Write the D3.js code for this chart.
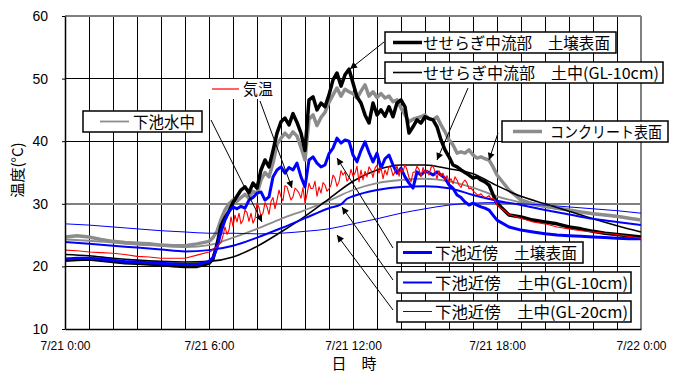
<!DOCTYPE html>
<html><head><meta charset="utf-8">
<script src="https://cdn.jsdelivr.net/npm/d3@7"></script>
<style>body{margin:0;background:#fff}svg{display:block}</style>
</head><body>
<svg id="c" width="680" height="374"></svg>
<script>
// ---------- DATA ----------
const yTicks = [10, 20, 30, 40, 50, 60];
const xTickHours = [0, 6, 12, 18, 24];
const xTickLabels = ["7/21 0:00", "7/21 6:00", "7/21 12:00", "7/21 18:00", "7/22 0:00"];
const seriesNames = ["せせらぎ中流部　土壌表面", "せせらぎ中流部　土中(GL-10cm)", "気温", "下池水中",
  "コンクリート表面", "下池近傍　土壌表面", "下池近傍　土中(GL-10cm)", "下池近傍　土中(GL-20cm)"];

// smooth series: hourly samples (hours)
const hourlyTimes = [0,1,2,3,4,5,6,7,8,9,10,11,12,13,14,15,16,17,18,19,20,21,22,23,24];
const seseragiGL10 = [21.9,21.7,21.3,21.0,20.8,20.7,20.8,21.5,23.2,25.5,28.0,30.8,33.6,35.4,36.2,36.2,35.6,34.8,32.9,31.2,30.0,28.8,27.6,26.5,25.5];
const pondWater    = [24.3,24.1,23.8,23.5,23.3,23.1,23.4,24.6,26.0,27.6,29.0,30.5,32.2,33.3,33.8,34.0,33.6,32.6,31.2,30.2,29.5,28.9,28.4,27.9,27.5];
const pondGL20     = [26.8,26.6,26.3,26.0,25.7,25.5,25.3,25.3,25.2,25.3,25.6,26.0,26.8,27.6,28.5,29.2,29.8,30.1,30.2,30.0,29.8,29.5,29.2,28.9,28.5];
const pondGL10Times = [0,1,2,3,4,5,6,7,8,9,10,11,11.5,11.75,12,13,14,15,16,17,18,19,20,21,22,23,24];
const pondGL10     = [23.9,23.6,23.3,23.0,22.7,22.4,22.6,23.3,24.6,26.1,27.7,29.3,29.9,30.8,31.2,32.2,32.7,32.8,32.5,31.4,30.5,29.8,29.0,28.3,27.6,27.1,26.6];

// jagged series: 0:00-5:30 every 30 min, 6:00-18:00 every 10 min, 18:30-24:00 every 30 min
const seseragiSurface = [
  21.0,21.1,21.2,21.0,20.8,20.6,20.5,20.4,20.3,20.1,20.0,20.0,
  20.5,21.2,23.5,26.5,27.8,28.8,
  30.2,31.2,32.2,32.7,31.8,33.3,
  32.5,35.4,37.0,35.9,38.5,41.3,
  43.1,43.7,42.6,44.4,43.0,41.3,
  38.5,46.6,47.1,45.0,46.1,45.5,
  47.4,49.8,50.9,48.8,50.6,51.5,
  49.3,47.1,46.1,44.2,42.9,46.1,
  44.2,45.0,44.0,45.5,43.9,46.1,
  46.6,45.5,41.3,42.3,43.4,42.9,
  43.9,43.6,43.4,42.3,40.2,38.6,
  37.5,36.2,35.9,35.4,35.0,34.6,
  34.1,34.3,33.8,33.5,33.0,31.5,
  30.1,
  28.2,27.9,27.4,27.1,26.8,26.3,26.0,25.6,25.3,25.1,24.9,24.7];
const concreteSurface = [
  24.7,24.9,24.7,24.3,24.0,23.8,23.7,23.6,23.4,23.3,23.3,23.6,
  24.0,24.6,25.6,27.5,29.0,30.0,
  30.6,30.4,31.0,31.5,30.9,32.0,
  31.6,33.8,35.0,34.3,36.5,39.5,
  40.5,41.3,40.6,41.5,40.8,39.0,
  37.0,43.5,44.2,42.5,43.8,44.6,
  46.2,47.4,48.5,47.2,48.3,47.9,
  47.6,46.9,48.0,49.0,47.2,47.9,
  47.0,47.6,46.9,47.2,46.3,46.6,
  45.3,44.2,43.1,43.5,43.7,43.9,
  44.2,43.6,43.4,43.9,42.6,41.5,
  40.2,39.4,38.1,38.3,38.1,38.6,
  37.8,37.3,37.5,37.2,37.0,35.9,
  34.6,
  32.2,30.6,30.0,29.6,29.3,29.0,28.7,28.4,28.2,28.0,27.7,27.4];
const pondSurface = [
  21.2,21.3,21.3,21.2,21.0,20.8,20.7,20.6,20.5,20.4,20.3,20.3,
  20.8,21.4,23.0,25.5,27.4,28.8,
  29.5,29.2,29.6,29.3,30.6,31.0,
  31.7,31.9,30.6,31.1,34.3,35.4,
  35.9,34.9,35.8,35.4,36.5,34.3,
  32.7,37.0,37.5,36.5,35.9,36.2,
  38.0,38.9,40.5,39.7,40.2,40.0,
  37.8,36.7,38.5,39.9,38.2,36.7,
  38.1,35.7,37.2,37.8,36.2,34.9,
  35.7,34.3,33.3,32.5,35.1,34.6,
  35.2,35.0,34.6,35.1,34.6,34.1,
  33.0,32.5,31.4,31.0,30.3,29.8,
  30.1,29.8,29.5,29.3,29.0,28.2,
  27.4,
  26.3,25.8,25.5,25.2,25.0,24.9,24.8,24.7,24.6,24.5,24.4,24.4];
// air temperature: 0:00-5:30 every 30 min, 6:00-18:00 every 5 min, 18:30-24:00 every 30 min
const airTemp = [
  22.6,22.5,22.3,22.2,22.1,21.9,21.6,21.5,21.3,21.3,21.3,21.8,
  22.3,22.4,22.8,23.0,23.1,23.5,23.8,24.9,26.3,25.1,25.8,27.9,
  26.4,28.2,27.1,28.5,26.8,27.4,29.0,28.6,27.2,28.5,26.9,27.6,
  30.1,29.4,28.0,28.5,30.2,29.5,28.3,30.4,31.0,29.2,30.6,32.2,
  31.1,30.5,32.9,32.7,31.6,30.6,31.1,32.5,32.2,31.7,30.9,32.6,
  30.1,31.5,33.3,32.4,32.5,33.6,31.2,32.7,31.7,33.4,33.0,32.0,
  32.4,33.0,34.6,34.1,32.8,33.5,35.3,34.6,35.1,33.6,34.1,35.5,
  34.4,34.9,36.0,33.5,35.4,33.8,35.2,34.3,35.9,35.4,34.2,35.7,
  36.2,34.9,35.8,34.0,35.4,34.6,36.0,35.7,34.5,35.1,36.1,34.4,
  35.6,35.1,36.3,35.4,34.2,33.5,35.0,35.1,36.0,35.5,34.3,35.8,
  34.9,35.4,34.6,35.8,36.1,35.1,34.0,35.3,34.4,34.9,33.8,34.5,
  33.5,34.0,33.2,34.3,33.8,33.0,32.6,33.4,33.8,33.3,32.4,32.5,
  32.1,31.8,31.5,31.4,31.6,31.2,31.0,31.1,31.3,30.8,30.9,30.6,
  29.8,
  28.3,27.7,27.1,26.8,26.3,26.0,25.7,25.5,25.3,25.1,24.8,24.5];

// ---------- CHART ----------
const nightT = d3.range(0, 6, 0.5), eveT = d3.range(18.5, 24.01, 0.5);
const jagTimes = [].concat(nightT, d3.range(0, 73).map(i => 6 + i / 6), eveT);
const airTimes = [].concat(nightT, d3.range(0, 145).map(i => 6 + i / 12), eveT);
const svg = d3.select("#c");
const x0 = 65, x1 = 641, yT = 16, yB = 329;
const x = d3.scaleLinear().domain([0, 24]).range([x0, x1]);
const y = d3.scaleLinear().domain([10, 60]).range([yB, yT]);
const jp = "'Noto Sans CJK JP','Noto Sans',sans-serif";
const lat = "'Liberation Sans',Arial,sans-serif";

svg.append("defs").html(
  '<clipPath id="pc"><rect x="' + x0 + '" y="' + yT + '" width="' + (x1 - x0) + '" height="' + (yB - yT) + '"/></clipPath>' +
  '<marker id="ah" viewBox="0 0 10 10" refX="10" refY="5" markerUnits="userSpaceOnUse" markerWidth="9" markerHeight="7" orient="auto"><path d="M0,0L10,5L0,10z" fill="#000"/></marker>');

// grid
const g = svg.append("g");
g.selectAll("line.v").data(d3.range(1, 24)).join("line")
  .attr("x1", d => x(d)).attr("x2", d => x(d)).attr("y1", yT).attr("y2", yB)
  .attr("stroke", "#000").attr("stroke-width", 1).attr("shape-rendering", "crispEdges");
g.selectAll("line.h").data(yTicks.filter(v => v > 10 && v < 60)).join("line")
  .attr("x1", x0).attr("x2", x1).attr("y1", d => y(d)).attr("y2", d => y(d))
  .attr("stroke", d => d === 30 ? "#808080" : "#000").attr("stroke-width", d => d === 30 ? 2 : 1)
  .attr("shape-rendering", "crispEdges");
g.append("line").attr("x1", x0).attr("x2", x1).attr("y1", yT).attr("y2", yT).attr("stroke", "#808080").attr("stroke-width", 2);
g.append("line").attr("x1", x1).attr("x2", x1).attr("y1", yT).attr("y2", yB).attr("stroke", "#808080").attr("stroke-width", 2);

// series
const plot = svg.append("g").attr("clip-path", "url(#pc)");
function draw(times, vals, color, w, smooth) {
  const line = d3.line().x((d, i) => x(times[i])).y(d => y(d))
    .curve(smooth ? d3.curveMonotoneX : d3.curveLinear);
  plot.append("path").datum(vals).attr("d", line).attr("fill", "none")
    .attr("stroke", color).attr("stroke-width", w).attr("stroke-linejoin", "round");
}
draw(hourlyTimes, pondWater, "#8c8c8c", 1.8, true);
draw(jagTimes, concreteSurface, "#8c8c8c", 3.5, false);
draw(jagTimes, seseragiSurface, "#000", 3.5, false);
draw(hourlyTimes, seseragiGL10, "#000", 1.6, true);
draw(jagTimes, pondSurface, "#0000ff", 3, false);
draw(pondGL10Times, pondGL10, "#0000ff", 2, true);
draw(hourlyTimes, pondGL20, "#0000ff", 1, true);
draw(airTimes, airTemp, "#ff0000", 1.1, false);

// axes
const ay = svg.append("g").attr("transform", "translate(" + x0 + ",0)")
  .call(d3.axisLeft(y).tickValues(yTicks).tickSize(3).tickPadding(14).tickSizeOuter(0));
ay.select(".domain").attr("stroke", "#000").attr("stroke-width", 1.5);
ay.selectAll("text").attr("font-family", lat).attr("font-size", 14).attr("fill", "#000");
const ax = svg.append("g").attr("transform", "translate(0," + yB + ")")
  .call(d3.axisBottom(x).tickValues(xTickHours).tickFormat((d, i) => xTickLabels[i]).tickSize(0).tickPadding(12.5).tickSizeOuter(0));
ax.select(".domain").attr("stroke", "#000").attr("stroke-width", 1.5);
ax.selectAll("text").attr("font-family", lat).attr("font-size", 12).attr("fill", "#000");

svg.append("text").attr("x", 354).attr("y", 369).attr("text-anchor", "middle")
  .attr("font-family", jp).attr("font-size", 15).text("日　時");
svg.append("text").attr("transform", "translate(23,170) rotate(-90)").attr("text-anchor", "middle")
  .attr("font-family", jp).attr("font-size", 15).text("温度(°C)");

// arrows
const arrows = [[384,42,350,69],[468,88,437,160],[498,133,489,160],[211,120,262,222],
  [260,101,292,188],[393,248,337,158],[393,280,342,207],[393,310,337,235]];
svg.selectAll("line.arr").data(arrows).join("line")
  .attr("x1", d => d[0]).attr("y1", d => d[1]).attr("x2", d => d[2]).attr("y2", d => d[3])
  .attr("stroke", "#000").attr("stroke-width", 1).attr("marker-end", "url(#ah)");

// legend boxes
const boxes = [
  {s: 0, bx: 385, by: 32, bw: 231, lx: 393, tx: 423, tw: 187, color: "#000", w: 3.5},
  {s: 1, bx: 385, by: 62, bw: 278, lx: 393, tx: 423, tw: 236, color: "#000", w: 1.6},
  {s: 3, bx: 83, by: 111, bw: 119, lx: 100, tx: 133, tw: 62, color: "#8c8c8c", w: 1.8},
  {s: 4, bx: 502, by: 121, bw: 166, lx: 513, tx: 550, tw: 112, color: "#8c8c8c", w: 3.5},
  {s: 5, bx: 397, by: 242, bw: 186, lx: 403, tx: 435, tw: 142, color: "#0000ff", w: 3},
  {s: 6, bx: 397, by: 272, bw: 234, lx: 403, tx: 435, tw: 193, color: "#0000ff", w: 2},
  {s: 7, bx: 397, by: 301, bw: 234, lx: 403, tx: 435, tw: 193, color: "#0000ff", w: 1}
];
boxes.forEach(b => {
  const gg = svg.append("g");
  gg.append("rect").attr("x", b.bx).attr("y", b.by).attr("width", b.bw).attr("height", 21)
    .attr("fill", "#fff").attr("stroke", "#000").attr("stroke-width", 1.5);
  gg.append("line").attr("x1", b.lx).attr("x2", b.lx + 29).attr("y1", b.by + 10.5).attr("y2", b.by + 10.5)
    .attr("stroke", b.color).attr("stroke-width", b.w);
  gg.append("text").attr("x", b.tx).attr("y", b.by + 16.5).attr("font-family", jp).attr("font-size", 15.5)
    .attr("textLength", b.tw).attr("lengthAdjust", "spacingAndGlyphs").text(seriesNames[b.s]);
});
// air temp label (no border)
const ga = svg.append("g");
ga.append("rect").attr("x", 208).attr("y", 79).attr("width", 70).attr("height", 20).attr("fill", "#fff");
ga.append("line").attr("x1", 212).attr("x2", 239).attr("y1", 89).attr("y2", 89).attr("stroke", "#ff3030").attr("stroke-width", 1.5);
ga.append("text").attr("x", 243).attr("y", 95).attr("font-family", jp).attr("font-size", 15.5)
  .attr("textLength", 30).attr("lengthAdjust", "spacingAndGlyphs").text(seriesNames[2]);
</script>
</body></html>
